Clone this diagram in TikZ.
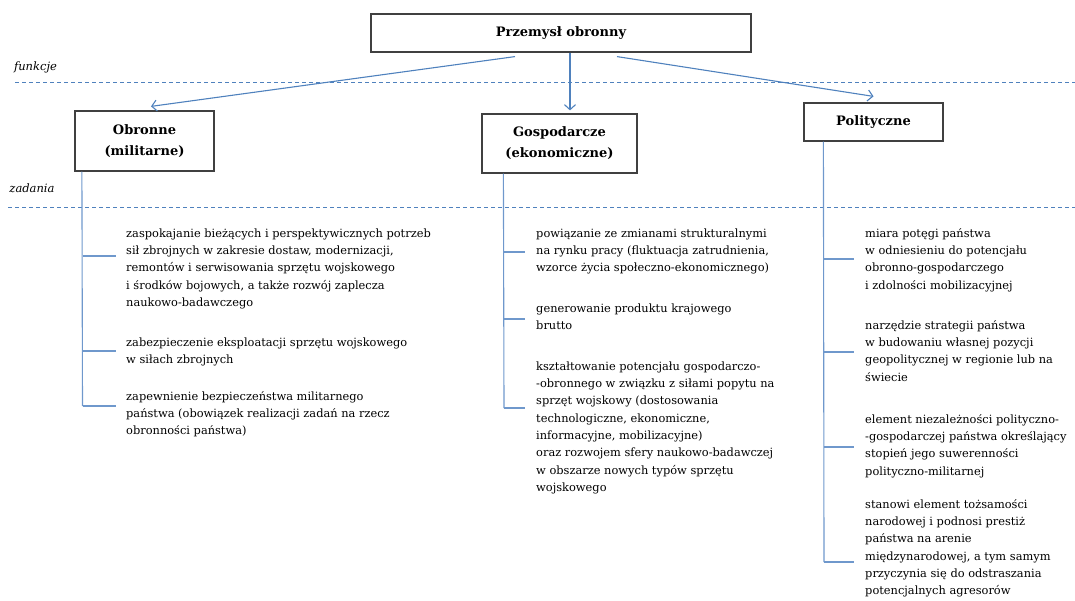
\documentclass[tikz,border=0pt]{standalone}
\usepackage{fontspec}
\setmainfont{DejaVu Serif}
\usetikzlibrary{arrows.meta}
\definecolor{lblue}{HTML}{4F81BD}
\definecolor{vblue}{HTML}{6F98CC}
\definecolor{boxgray}{HTML}{404040}
\tikzset{
  box/.style={draw=boxgray, line width=1.2pt, fill=white, align=center, inner sep=0pt,
              font=\fontsize{13}{21}\selectfont\bfseries},
  arr/.style={draw=lblue, line width=1.1pt, -{Straight Barb[length=5pt,width=11pt,line width=1.1pt]}},
  sep/.style={draw=lblue, line width=0.9pt, dash pattern=on 4pt off 3pt},
  vline/.style={draw=vblue, line width=1.1pt},
  txt/.style={anchor=north west, inner sep=0pt, align=left,
              font=\fontsize{11.4}{17.3}\selectfont},
  lab/.style={font=\fontsize{11.5}{13}\selectfont\itshape, inner sep=0pt},
}
\begin{document}
\begin{tikzpicture}[x=1pt,y=-1pt]
\useasboundingbox (0,0) rectangle (1075,601);
% separators
\coordinate (s1a) at (15,82);  \coordinate (s1b) at (1075,82);
\coordinate (s2a) at (8,207);  \coordinate (s2b) at (1075,207);
\draw[sep] (s1a) -- (s1b);
\draw[sep] (s2a) -- (s2b);
\node[lab] (funk) at (35.5,67) {funkcje};
\node[lab] (zad) at (32,188) {zadania};
% boxes
\node[box, minimum width=380pt, minimum height=38pt] (top) at (561,33) {Przemysł obronny};
\node[box, minimum width=139pt, minimum height=60pt] (obr) at (144.5,141) {Obronne\\(militarne)};
\node[box, minimum width=155pt, minimum height=59pt] (gos) at (559.5,143.5) {Gospodarcze\\(ekonomiczne)};
\node[box, minimum width=139pt, minimum height=38pt] (pol) at (873.5,122) {Polityczne};
% arrows
\draw[arr] ([xshift=-46pt,yshift=-4pt]top.south) -- ([xshift=6.5pt,yshift=4pt]obr.north);
\draw[arr] ([xshift=9pt]top.south) -- ([xshift=10.5pt,yshift=3pt]gos.north);
\draw[arr] ([xshift=56pt,yshift=-4pt]top.south) -- ([yshift=6pt]pol.north);
% left column
\coordinate (o1) at (82.5,256); \coordinate (o1e) at (116,256);
\coordinate (o2) at (82.5,351); \coordinate (o2e) at (116,351);
\coordinate (o3) at (82.5,406); \coordinate (o3e) at (116,406);
\draw[vline] ([xshift=7.5pt]obr.south west) -- (o3);
\draw[vline] (o1) -- (o1e);
\draw[vline] (o2) -- (o2e);
\draw[vline] (o3) -- (o3e);
\node[txt] (ot1) at (126,225) {\strut zaspokajanie bieżących i perspektywicznych potrzeb\\sił zbrojnych w zakresie dostaw, modernizacji,\\remontów i serwisowania sprzętu wojskowego\\i środków bojowych, a także rozwój zaplecza\\naukowo-badawczego};
\node[txt] (ot2) at (126,334) {\strut zabezpieczenie eksploatacji sprzętu wojskowego\\w siłach zbrojnych};
\node[txt] (ot3) at (126,388) {\strut zapewnienie bezpieczeństwa militarnego\\państwa (obowiązek realizacji zadań na rzecz\\obronności państwa)};
% middle column
\coordinate (g1) at (504,252); \coordinate (g1e) at (525,252);
\coordinate (g2) at (504,319); \coordinate (g2e) at (525,319);
\coordinate (g3) at (504,408); \coordinate (g3e) at (525,408);
\draw[vline] ([xshift=22pt]gos.south west) -- (g3);
\draw[vline] (g1) -- (g1e);
\draw[vline] (g2) -- (g2e);
\draw[vline] (g3) -- (g3e);
\node[txt] (gt1) at (536,225) {\strut powiązanie ze zmianami strukturalnymi\\na rynku pracy (fluktuacja zatrudnienia,\\wzorce życia społeczno-ekonomicznego)};
\node[txt] (gt2) at (536,300) {\strut generowanie produktu krajowego\\brutto};
\node[txt] (gt3) at (536,358) {\strut kształtowanie potencjału gospodarczo-\\-obronnego w związku z siłami popytu na\\sprzęt wojskowy (dostosowania\\technologiczne, ekonomiczne,\\informacyjne, mobilizacyjne)\\oraz rozwojem sfery naukowo-badawczej\\w obszarze nowych typów sprzętu\\wojskowego};
% right column
\coordinate (p1) at (824,259); \coordinate (p1e) at (854,259);
\coordinate (p2) at (824,352); \coordinate (p2e) at (854,352);
\coordinate (p3) at (824,447); \coordinate (p3e) at (854,447);
\coordinate (p4) at (824,562); \coordinate (p4e) at (854,562);
\draw[vline] ([xshift=20pt]pol.south west) -- (p4);
\draw[vline] (p1) -- (p1e);
\draw[vline] (p2) -- (p2e);
\draw[vline] (p3) -- (p3e);
\draw[vline] (p4) -- (p4e);
\node[txt] (pt1) at (865,225) {\strut miara potęgi państwa\\w odniesieniu do potencjału\\obronno-gospodarczego\\i zdolności mobilizacyjnej};
\node[txt] (pt2) at (865,317) {\strut narzędzie strategii państwa\\w budowaniu własnej pozycji\\geopolitycznej w regionie lub na\\świecie};
\node[txt] (pt3) at (865,411) {\strut element niezależności polityczno-\\-gospodarczej państwa określający\\stopień jego suwerenności\\polityczno-militarnej};
\node[txt] (pt4) at (865,496) {\strut stanowi element tożsamości\\narodowej i podnosi prestiż\\państwa na arenie\\międzynarodowej, a tym samym\\przyczynia się do odstraszania\\potencjalnych agresorów};
\end{tikzpicture}
\end{document}
